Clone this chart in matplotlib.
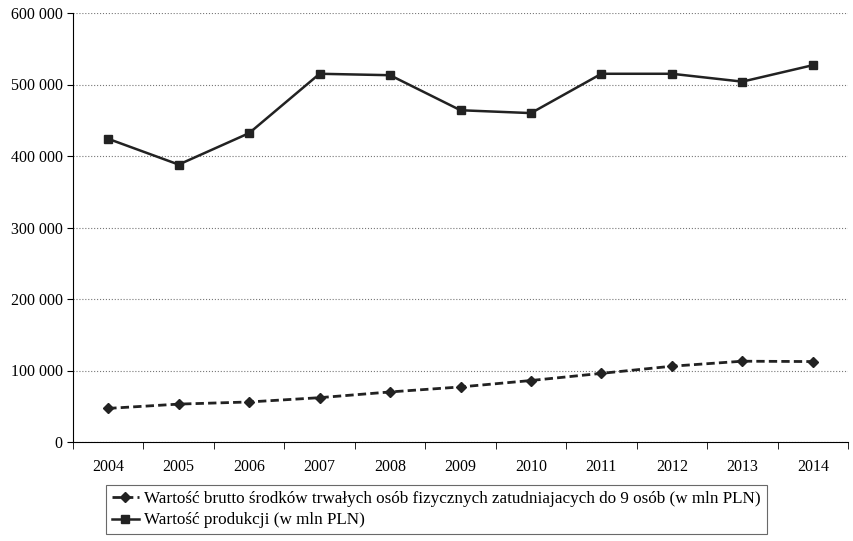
import matplotlib.pyplot as plt
from matplotlib.ticker import FuncFormatter, FixedLocator

plt.rcParams['font.family'] = ['Liberation Serif', 'DejaVu Serif']

years = ['2004', '2005', '2006', '2007', '2008', '2009', '2010', '2011', '2012', '2013', '2014']
assets = [47000, 53000, 56000, 62000, 70000, 77000, 86000, 96000, 106000, 113000, 112500]
production = [424000, 388000, 432000, 515000, 513000, 464000, 460000, 515000, 515000, 504000, 527000]

fig = plt.figure(figsize=(8.54, 5.41), dpi=100)
ax = fig.add_axes([73 / 854, 1 - 442 / 541, 775 / 854, 429 / 541])

x = range(len(years))
ax.plot(x, assets, color='#222222', lw=2, ls=(0, (3, 1.5)), marker='D', ms=5,
        label='Wartość brutto środków trwałych osób fizycznych zatudniajacych do 9 osób (w mln PLN)')
ax.plot(x, production, color='#222222', lw=1.8, marker='s', ms=6,
        label='Wartość produkcji (w mln PLN)')

ax.set_xlim(-0.5, len(years) - 0.5)
ax.set_ylim(0, 600000)
ax.set_yticks(range(0, 600001, 100000))
ax.yaxis.set_major_formatter(FuncFormatter(lambda v, p: f'{int(v):,}'.replace(',', ' ')))
ax.set_xticks(list(x))
ax.set_xticklabels(years)
ax.xaxis.set_minor_locator(FixedLocator([i - 0.5 for i in range(len(years) + 1)]))
ax.tick_params(axis='x', which='major', length=0, pad=12)
ax.tick_params(axis='x', which='minor', length=5)
ax.tick_params(axis='y', length=4)
ax.tick_params(labelsize=11.5)
ax.grid(axis='y', color='#777777', ls=':', lw=0.8)
for s in ['top', 'right']:
    ax.spines[s].set_visible(False)

leg = ax.legend(loc='upper left', bbox_to_anchor=(97 / 854, 1 - 476 / 541), bbox_transform=fig.transFigure,
                frameon=True, fancybox=False, edgecolor='#444444', fontsize=12.3,
                handlelength=1.6, handletextpad=0.3, borderpad=0.35, labelspacing=0.35)
leg.get_frame().set_linewidth(0.8)

fig.savefig('out.png', dpi=100)
